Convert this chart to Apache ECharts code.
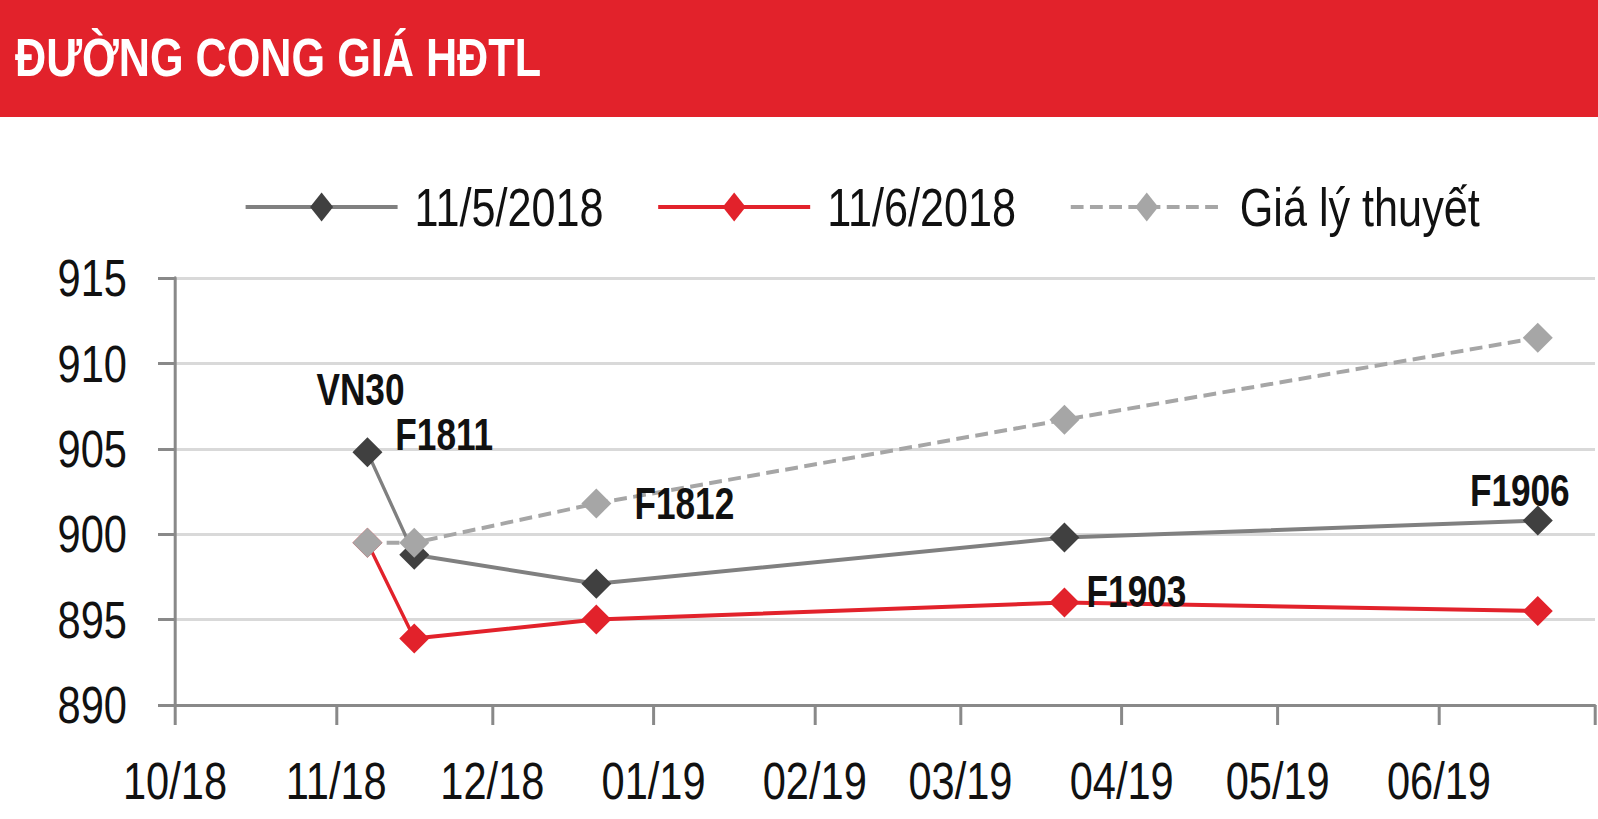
<!DOCTYPE html>
<html>
<head>
<meta charset="utf-8">
<script src="https://cdn.jsdelivr.net/npm/echarts@6/dist/echarts.min.js"></script>
<style>
html,body{margin:0;padding:0;background:#fff;overflow:hidden;}
#wrap{width:1598px;height:819px;overflow:hidden;position:relative;}
#c{height:819px;transform-origin:0 0;position:absolute;left:0;top:0;}
</style>
</head>
<body>
<div id="wrap"><div id="c"></div></div>
<script>
// ---- data ----
const contracts = ['VN30', 'F1811', 'F1812', 'F1903', 'F1906'];
const dates = ['2018-11-07', '2018-11-16', '2018-12-21', '2019-03-21', '2019-06-20'];
const seriesNames = ['11/5/2018', '11/6/2018', 'Giá lý thuyết'];
const price_0511 = [904.8, 898.8, 897.1, 899.8, 900.8];
const price_0611 = [899.5, 893.9, 895.0, 896.0, 895.5];
const theoretical = [899.5, 899.5, 901.8, 906.7, 911.5];
const yTicks = [890, 895, 900, 905, 910, 915];
const xRange = ['2018-10-01', '2019-07-01'];
const titleText = 'ĐƯỜNG CONG GIÁ HĐTL';

// ---- layout: the chart is drawn wider and compressed horizontally so that
// a regular sans face gets the narrow proportions of the original type ----
const W = 1598, H = 819;
const SX = 0.8;                 // horizontal compression
const hx = v => v / SX;         // horizontal length in pre-compressed units
const FONT = "'Liberation Sans', Arial, Helvetica, sans-serif";

// caption placement: which series point carries it and its offset (px)
const labelPlacement = {
  VN30:  { series: 0, point: 0, offset: [-7, -63] },
  F1811: { series: 0, point: 1, offset: [30, -120] },
  F1812: { series: 2, point: 2, offset: [88, 0] },
  F1903: { series: 1, point: 3, offset: [72, -11] },
  F1906: { series: 0, point: 4, offset: [-18, -30] }
};

function toTime(s) {
  const p = s.split('-').map(Number);
  return new Date(p[0], p[1] - 1, p[2]).getTime();
}

function labelCfg(name, offset) {
  return {
    show: true,
    formatter: name,
    position: 'inside',
    offset: [hx(offset[0]), offset[1]],
    color: '#111',
    fontFamily: FONT,
    fontWeight: 'bold',
    fontSize: 44
  };
}

function buildData(values, seriesIdx) {
  return values.map((v, i) => {
    const item = { value: [toTime(dates[i]), v], name: contracts[i] };
    Object.keys(labelPlacement).forEach(name => {
      const lp = labelPlacement[name];
      if (lp.series === seriesIdx && lp.point === i) item.label = labelCfg(name, lp.offset);
    });
    return item;
  });
}

const el = document.getElementById('c');
el.style.width = hx(W) + 'px';
el.style.transform = 'scaleX(' + SX + ')';

const chart = echarts.init(el, null, { renderer: 'svg', width: hx(W), height: H });

const xMax = toTime(xRange[1]);
const symSize = [hx(30), 30];

const option = {
  animation: false,
  backgroundColor: '#fff',
  graphic: [{
    type: 'rect',
    shape: { x: 0, y: 0, width: hx(W), height: 117 },
    style: { fill: '#e2222b' },
    z: -1
  }],
  title: {
    text: titleText,
    left: hx(15),
    top: 30,
    padding: 0,
    textStyle: { color: '#fff', fontFamily: FONT, fontWeight: 'bold', fontSize: 54 }
  },
  legend: {
    data: seriesNames,
    left: hx(244),
    top: 180,
    padding: 0,
    width: hx(1400),
    itemWidth: hx(152),
    itemHeight: 36,
    itemGap: hx(53),
    lineStyle: { width: 4 },
    textStyle: { fontFamily: FONT, fontSize: 54, color: '#111', padding: [0, 0, 0, hx(13)] }
  },
  grid: { left: hx(175), right: hx(3), top: 278, bottom: 114, containLabel: false, outerBoundsMode: 'none' },
  xAxis: {
    type: 'time',
    min: toTime(xRange[0]),
    max: xMax,
    minInterval: 28 * 86400000,
    maxInterval: 31 * 86400000,
    axisLine: { show: true, lineStyle: { color: '#898989', width: 3 } },
    axisTick: { show: true, length: 20, lineStyle: { color: '#898989', width: 3 / SX } },
    splitLine: { show: false },
    axisLabel: {
      showMaxLabel: false,
      margin: 50,
      fontFamily: FONT,
      fontSize: 52,
      color: '#111',
      formatter: function (val) {
        if (val >= xMax) return '';
        const d = new Date(val);
        const m = d.getMonth() + 1;
        const y = d.getFullYear() % 100;
        return (m < 10 ? '0' : '') + m + '/' + (y < 10 ? '0' : '') + y;
      }
    }
  },
  yAxis: {
    type: 'value',
    min: yTicks[0],
    max: yTicks[yTicks.length - 1],
    interval: yTicks[1] - yTicks[0],
    axisLine: { show: true, lineStyle: { color: '#898989', width: 3 / SX } },
    axisTick: { show: true, length: hx(17), lineStyle: { color: '#898989', width: 3 } },
    splitLine: { show: true, lineStyle: { color: '#d9d9d9', width: 3 } },
    axisLabel: { margin: hx(48), fontFamily: FONT, fontSize: 52, color: '#111' }
  },
  series: [
    {
      name: seriesNames[0],
      type: 'line',
      data: buildData(price_0511, 0),
      symbol: 'diamond',
      symbolSize: symSize,
      itemStyle: { color: '#404040' },
      lineStyle: { color: '#808080', width: 4 },
      z: 2
    },
    {
      name: seriesNames[1],
      type: 'line',
      data: buildData(price_0611, 1),
      symbol: 'diamond',
      symbolSize: symSize,
      itemStyle: { color: '#e2222b' },
      lineStyle: { color: '#e2222b', width: 4 },
      z: 3
    },
    {
      name: seriesNames[2],
      type: 'line',
      data: buildData(theoretical, 2),
      symbol: 'diamond',
      symbolSize: symSize,
      itemStyle: { color: '#a6a6a6' },
      lineStyle: { color: '#a6a6a6', width: 4, type: [16, 8] },
      z: 4
    }
  ]
};

chart.setOption(option);
</script>
</body>
</html>
